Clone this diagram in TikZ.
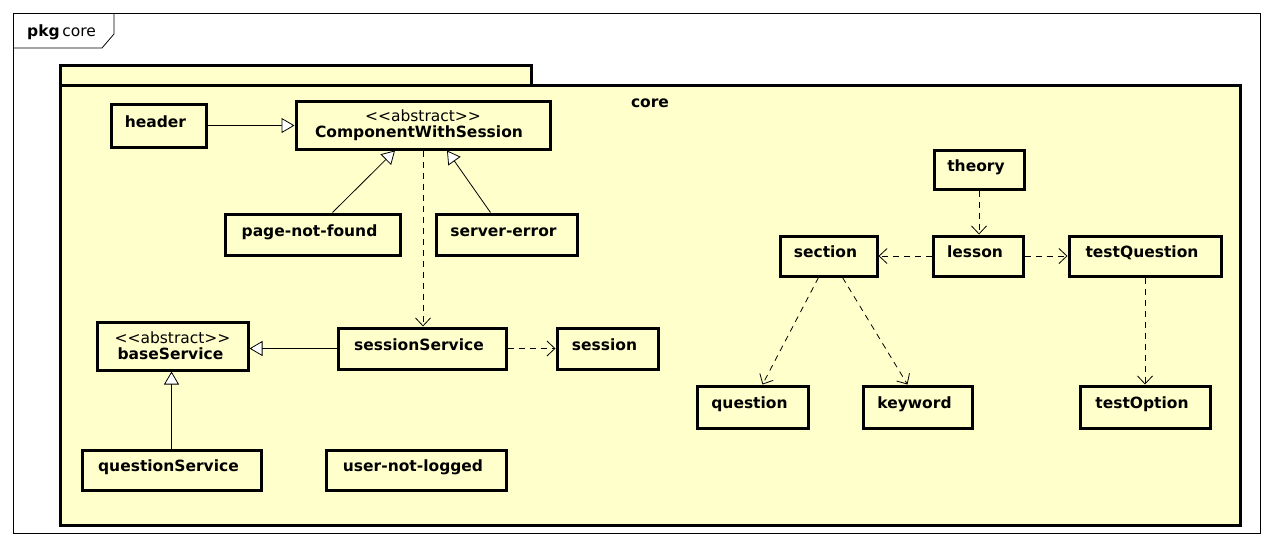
\documentclass[tikz,border=0pt]{standalone}
\usepackage{fontspec}
\setmainfont{DejaVu Sans}
\usetikzlibrary{arrows.meta}
\definecolor{umlfill}{HTML}{FFFFCC}
\newcommand\umlfont{\fontsize{15.5}{18}\selectfont}
\newcommand\stereo{{<}{<}abstract{>}{>}}
\tikzset{
  cls/.style={draw, line width=3pt, fill=umlfill, font=\umlfont\bfseries,
    inner sep=0pt, text height=11pt, text depth=8pt,
    execute at end node={\hspace*{6pt}}},
  abs/.style={draw, line width=3pt, fill=umlfill, align=center,
    font=\umlfont, inner sep=0pt},
  gen/.style={line width=0.8pt, -{Triangle[open, length=13pt, width=15pt, fill=white]}},
  dep/.style={line width=0.8pt, dash pattern=on 6pt off 5pt,
    -{Straight Barb[length=8pt, width=15pt]}},
}
\begin{document}
\begin{tikzpicture}[x=1pt, y=-1pt, font=\umlfont]
\useasboundingbox (0,0) rectangle (1273,546);
\fill[white] (0,0) rectangle (1273,546);

% outer frame with its name tab
\draw[line width=0.8pt] (13,13) rectangle (1260,533);
\draw[line width=0.8pt] (13,48) -- (102,48) -- (114,34) -- (114,13);
\node[anchor=base west, inner sep=0pt] (frametitle) at (27,36) {\textbf{pkg}\,core};

% package core
\draw[line width=3pt, fill=umlfill] (60,65) rectangle (531,85);
\draw[line width=3pt, fill=umlfill] (60,85) rectangle (1240,525);
\node[font=\umlfont\bfseries, anchor=base] (pkgname) at (650,107) {core};

% classes
\node[cls, minimum width=95pt, minimum height=43pt] (header) at (158.5,125.5) {header};
\node[abs, minimum width=254pt, minimum height=48pt] (cws) at (423,125)
  {\stereo\\[-2pt]\textbf{ComponentWithSession}\hspace*{8pt}};
\node[cls, minimum width=175pt, minimum height=41pt] (pnf) at (312.5,234.5) {page-not-found};
\node[cls, minimum width=141pt, minimum height=41pt] (serr) at (506.5,234.5) {server-error};
\node[abs, minimum width=151pt, minimum height=48pt] (base) at (172.5,346)
  {\stereo\\[-2pt]\textbf{baseService}\hspace*{4pt}};
\node[cls, minimum width=168pt, minimum height=41pt] (ss) at (422,348.5) {sessionService};
\node[cls, minimum width=101pt, minimum height=41pt] (sess) at (607.5,348.5) {session};
\node[cls, minimum width=179pt, minimum height=40pt] (qs) at (171.5,470) {questionService};
\node[cls, minimum width=180pt, minimum height=40pt] (unl) at (416,470) {user-not-logged};
\node[cls, minimum width=90pt, minimum height=39pt] (theory) at (979,169.5) {theory};
\node[cls, minimum width=97pt, minimum height=40pt] (section) at (828.5,256) {section};
\node[cls, minimum width=90pt, minimum height=40pt] (lesson) at (978,256) {lesson};
\node[cls, minimum width=152pt, minimum height=40pt] (tq) at (1145,256) {testQuestion};
\node[cls, minimum width=111pt, minimum height=42pt] (question) at (752.5,407) {question};
\node[cls, minimum width=109pt, minimum height=42pt] (keyword) at (917.5,407) {keyword};
\node[cls, minimum width=130pt, minimum height=42pt] (topt) at (1145,407) {testOption};

% generalizations
\draw[gen] (header.east) -- (header.east -| cws.west);
\draw[gen] ([xshift=20pt]pnf.north) -- ([xshift=-28pt]cws.south);
\draw[gen] ([xshift=-16pt]serr.north) -- ([xshift=24pt]cws.south);
\draw[gen] (ss.west) -- (ss.west -| base.east);
\draw[gen] (qs.north) -- (qs.north |- base.south);

% dependencies
\draw[dep] (cws.south) -- (cws.south |- ss.north);
\draw[dep] (ss.east) -- (ss.east -| sess.west);
\draw[dep] (theory.south) -- (theory.south |- lesson.north);
\draw[dep] (lesson.west) -- (section.east);
\draw[dep] (lesson.east) -- (tq.west);
\draw[dep] ([xshift=-10pt]section.south) -- ([xshift=10pt]question.north);
\draw[dep] ([xshift=14pt]section.south) -- ([xshift=-10pt]keyword.north);
\draw[dep] (tq.south) -- (topt.north);
\end{tikzpicture}
\end{document}
